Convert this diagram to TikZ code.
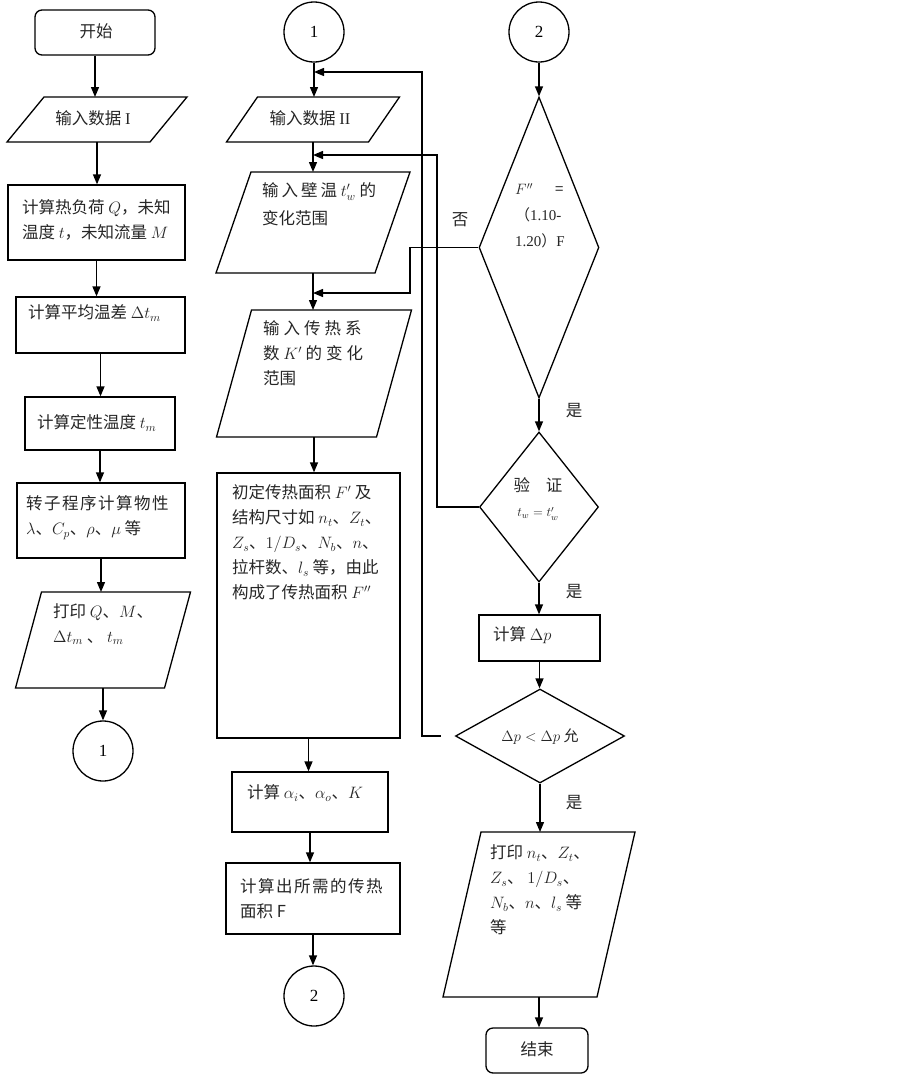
\documentclass[tikz,border=0pt]{standalone}
\usepackage{fix-cm}
\usepackage{fontspec}
\setmainfont{Liberation Serif}
\newfontfamily\cjkf{Noto Sans CJK SC}
\usetikzlibrary{arrows.meta,shapes.geometric}
\tikzset{
  ln/.style={line width=1.3pt},
  frame/.style={rectangle, draw=none, inner sep=0pt, outer sep=0pt},
  rbox/.style={rectangle, draw, line width=1.3pt, inner sep=0pt},
  rrbox/.style={rbox, rounded corners=7pt},
  cbox/.style={circle, draw, line width=1.3pt, inner sep=0pt, minimum size=60pt, font=\rmfamily\fontsize{17}{20}\selectfont},
  dbox/.style={diamond, draw, line width=1.3pt, inner sep=0pt},
  arr/.style={line width=1.3pt, -{Triangle[length=10pt,width=8pt]}},
  txt/.style={font=\cjkf\fontsize{16.5}{25}\selectfont, text=black!85, inner sep=0pt, align=left, anchor=west},
  ctxt/.style={txt, align=center, anchor=center},
}
\newcommand{\mypara}[6]{%
  \node[frame, minimum width=#4pt, minimum height=#5pt] (#1) at (#2,#3) {};
  \draw[ln] ({#2-#4/2-#6/2},{#3+#5/2}) -- ({#2+#4/2-#6/2},{#3+#5/2})
    -- ({#2+#4/2+#6/2},{#3-#5/2}) -- ({#2-#4/2+#6/2},{#3-#5/2}) -- cycle;}
\begin{document}
\begin{tikzpicture}[x=1pt,y=-1pt]
\fill[white] (0,0) rectangle (903,1077);
\useasboundingbox (0,0) rectangle (903,1077);

% ---------- left column ----------
\node[rrbox, minimum width=120pt, minimum height=45pt] (start) at (95,32.5) {};
\node[ctxt] (tstart) at (96,31) {开始};
\mypara{in1}{97}{119.5}{143}{45}{37}
\node[ctxt] (tin1) at (93,118) {输入数据 \textrm{I}};
\node[rbox, minimum width=177pt, minimum height=75pt] (calc1) at (96.5,222.5) {};
\node[txt] (tcalc1) at (22,220) {计算热负荷 $Q$，未知\\温度 $t$，未知流量 $M$};
\node[rbox, minimum width=169pt, minimum height=56pt] (calc2) at (100.5,325) {};
\node[txt] (tcalc2) at (28,313) {计算平均温差 $\Delta t_m$};
\node[rbox, minimum width=150pt, minimum height=53pt] (calc3) at (100,423.5) {};
\node[txt] (tcalc3) at (37,423) {计算定性温度 $t_m$};
\node[rbox, minimum width=168pt, minimum height=75pt] (prop) at (101,520.5) {};
\node[txt] (tprop) at (26,517.5) {转\kern1.5pt 子\kern1.5pt 程\kern1.5pt 序\kern1.5pt 计\kern1.5pt 算\kern1.5pt 物\kern1.5pt 性\\$\lambda$、$C_p$、$\rho$、$\mu$ 等};
\mypara{out1}{103}{640}{149}{96}{26}
\node[txt] (tout1) at (53,624) {打印 $Q$、$M$、\\$\Delta t_m$ 、 $t_m$};
\node[cbox] (c1a) at (103,751) {1};

\draw[arr] (start.south) -- (start.south |- in1.north);
\draw[arr] (in1.south) -- (in1.south |- calc1.north);
\draw[arr] (calc1.south) -- (calc1.south |- calc2.north);
\draw[arr] (calc2.south) -- (calc2.south |- calc3.north);
\draw[arr] (calc3.south) -- (calc3.south |- prop.north);
\draw[arr] (prop.south) -- (prop.south |- out1.north);
\draw[arr] (out1.south) -- (out1.south |- c1a.north);

% ---------- middle column ----------
\node[cbox] (c1b) at (314,32) {1};
\mypara{in2}{313}{119.5}{142}{45}{31}
\node[ctxt] (tin2) at (310,118) {输入数据 \textrm{II}};
\mypara{in3}{313}{222.5}{159}{101}{35}
\node[txt] (tin3) at (262,204) {输\kern3pt 入\kern3pt 壁\kern3pt 温 $t'_w$ 的\\[3pt]变化范围};
\mypara{in4}{314}{373.5}{160}{127}{35}
\node[txt] (tin4) at (263,353) {输\kern4pt 入\kern4pt 传\kern4pt 热\kern4pt 系\\数 $K'$ 的\kern4pt 变\kern4pt 化\\范围};
\node[rbox, minimum width=183pt, minimum height=265pt] (init) at (308.5,605.5) {};
\node[txt] (tinit) at (232,542.5) {初定传热面积 $F'$ 及\\结构尺寸如 $n_t$、$Z_t$、\\$Z_s$、$1/D_s$、$N_b$、$n$、\\拉杆数、$l_s$ 等，由此\\构成了传热面积 $F''$};
\node[rbox, minimum width=156pt, minimum height=60pt] (calc4) at (310,802) {};
\node[txt] (tcalc4) at (247,793) {计算 $\alpha_i$、$\alpha_o$、$K$};
\node[rbox, minimum width=174pt, minimum height=71pt] (calc5) at (313,898.5) {};
\node[txt] (tcalc5) at (240,898.5) {计\kern1.5pt 算\kern1.5pt 出\kern1.5pt 所\kern1.5pt 需\kern1.5pt 的\kern1.5pt 传\kern1.5pt 热\\面积 F};
\node[cbox] (c2a) at (314,996) {2};

\draw[arr] (c1b.south) -- (c1b.south |- in2.north);
\draw[arr] (in2.south) -- (in2.south |- in3.north);
\draw[arr] (in3.south) -- (in3.south |- in4.north);
\draw[arr] (in4.south) -- (in4.south |- init.north);
\draw[arr] (init.south) -- (init.south |- calc4.north);
\draw[arr] (calc4.south) -- (calc4.south |- calc5.north);
\draw[arr] (calc5.south) -- (calc5.south |- c2a.north);

% ---------- right column ----------
\node[cbox] (c2b) at (539,32) {2};
\node[dbox, minimum width=120pt, minimum height=301pt] (d1) at (539,247.5) {};
\node[txt, font=\cjkf\fontsize{15}{26}\selectfont] (td1) at (515,216) {$F''$\hspace{22pt}=\\（\textrm{1.10-}\\\textrm{1.20}）\textrm{F}};
\node[dbox, minimum width=119pt, minimum height=150pt] (d2) at (539,507) {};
\node[ctxt] (td2) at (538,499) {验\hspace{16pt}证\\{\fontsize{13}{15}\selectfont$t_w=t'_w$}};
\node[rbox, minimum width=121pt, minimum height=46pt] (calc6) at (539.5,638) {};
\node[txt] (tcalc6) at (493,635) {计算 $\Delta p$};
\node[dbox, minimum width=169pt, minimum height=94pt] (d3) at (540,736) {};
\node[ctxt, font=\cjkf\fontsize{15}{20}\selectfont] (td3) at (540,737) {$\Delta p<\Delta p$ 允};
\mypara{out2}{539}{914.5}{154}{165}{38}
\node[txt] (tout2) at (490,890) {打印 $n_t$、$Z_t$、\\$Z_s$、 $1/D_s$、\\$N_b$、$n$、$l_s$ 等\\等};
\node[rrbox, minimum width=102pt, minimum height=45pt] (stop) at (537,1050.5) {};
\node[ctxt] (tstop) at (537,1049) {结束};

\draw[arr] (c2b.south) -- (c2b.south |- d1.north);
\draw[arr] (d1.south) -- (d1.south |- d2.north);
\draw[arr] (d2.south) -- (d2.south |- calc6.north);
\draw[arr] (calc6.south) -- (calc6.south |- d3.north);
\draw[arr] (d3.south) -- (d3.south |- out2.north);
\draw[arr] (out2.south) -- (out2.south |- stop.north);

% ---------- feedback loops ----------
\draw[arr] (d1.west) -| (410,293) -- (in3.south |- 0,293);
\draw[arr] (d2.west) -| (437,155) -- (in2.south |- 0,155);
\draw[arr] ([xshift=-14pt]d3.west) -| (422,72) -- (c1b.south |- 0,72);

% ---------- labels ----------
\node[ctxt] (lno) at (460,220) {否};
\node[ctxt] (lyes1) at (574,411) {是};
\node[ctxt] (lyes2) at (574,592) {是};
\node[ctxt] (lyes3) at (574,803) {是};
\end{tikzpicture}
\end{document}
